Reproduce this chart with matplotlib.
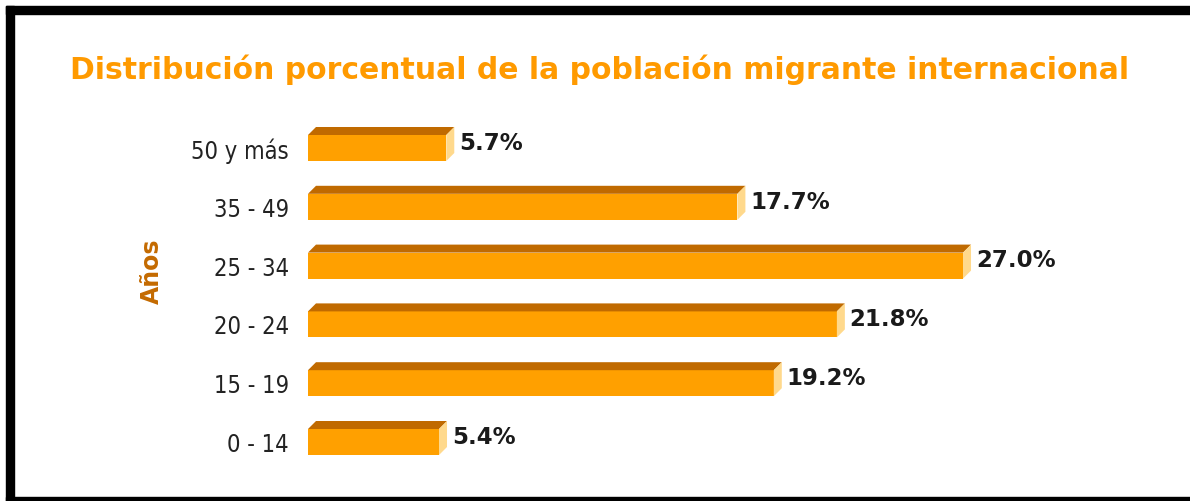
import matplotlib.pyplot as plt
import matplotlib.patches as ptc

categories = ['0 - 14', '15 - 19', '20 - 24', '25 - 34', '35 - 49', '50 y más']
shares = [5.4, 19.2, 21.8, 27.0, 17.7, 5.7]
value_labels = ['5.4%', '19.2%', '21.8%', '27.0%', '17.7%', '5.7%']

W, H = 1190, 501
FRONT = '#FFA000'
TOP = '#C06A00'
SIDE = '#FFD98C'

fig = plt.figure(figsize=(W / 100, H / 100), dpi=100)

# frame around the picture (black, cut on the right/bottom edge)
for x0, y0, w, h in [(6, 0, 8, H - 6), (6, H - 14, W, 8), (6, 0, W, 4)]:
    fig.patches.append(ptc.Rectangle((x0 / W, y0 / H), w / W, h / H,
                                     transform=fig.transFigure, color='black', zorder=0))

px_per_pct = 24.26
row_px = 58.8
left_px, right_px = 308, 1180
bottom_px, top_px = 480, 110
ax = fig.add_axes([left_px / W, (H - bottom_px) / H,
                   (right_px - left_px) / W, (bottom_px - top_px) / H])
ax.set_xlim(0, (right_px - left_px) / px_per_pct)
ax.set_ylim(-(bottom_px - 442) / row_px, 5 + (148 - top_px) / row_px)
ax.axis('off')

bar_h = 26 / row_px
dx = 8 / px_per_pct
dy = 8 / row_px

for i, (v, lab) in enumerate(zip(shares, value_labels)):
    y0 = i - bar_h / 2
    y1 = i + bar_h / 2
    ax.add_patch(ptc.Rectangle((0, y0), v, bar_h, facecolor=FRONT, edgecolor='none'))
    ax.add_patch(ptc.Polygon([(0, y1), (dx, y1 + dy), (v + dx, y1 + dy), (v, y1)],
                             facecolor=TOP, edgecolor='none'))
    ax.add_patch(ptc.Polygon([(v, y0), (v, y1), (v + dx, y1 + dy), (v + dx, y0 + dy)],
                             facecolor=SIDE, edgecolor='none'))
    ax.text(v + dx + 0.2, i + 0.08, lab, ha='left', va='center', fontsize=16.5,
            fontweight='bold', color='#1a1a1a', family='DejaVu Sans')
    ax.text(-19 / px_per_pct, i - 0.05, categories[i], ha='right', va='center',
            fontsize=17, color='#222222', family='DejaVu Sans', fontstretch='condensed')

fig.text(600 / W, 1 - 70 / H, 'Distribución porcentual de la población migrante internacional',
         ha='center', va='center', fontsize=21.5, fontweight='bold', color='#FF9A00',
         family='DejaVu Sans')
fig.text(152 / W, 1 - 271 / H, 'Años', ha='center', va='center', rotation=90,
         fontsize=17, fontweight='bold', color='#C46A00', family='DejaVu Sans')

fig.savefig('out.png', dpi=100, facecolor='white')
